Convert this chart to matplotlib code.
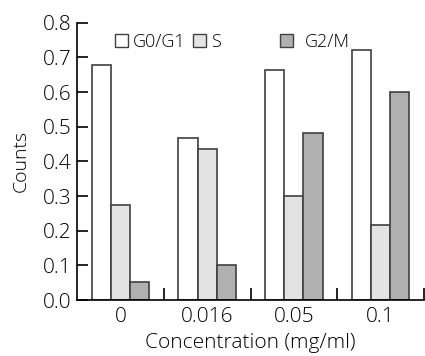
import numpy as np
import matplotlib.pyplot as plt
from matplotlib.patches import Patch

concs = ["0", "0.016", "0.05", "0.1"]
g0g1 = [0.678, 0.468, 0.665, 0.722]
s_phase = [0.274, 0.435, 0.300, 0.217]
g2m = [0.053, 0.101, 0.482, 0.600]

def main():
    plt.rcParams['font.family'] = ['Open Sans', 'DejaVu Sans']
    plt.rcParams['font.weight'] = 'light'
    plt.rcParams['axes.labelweight'] = 'light'
    fig = plt.figure(figsize=(4.25, 3.56), dpi=100)
    ax = fig.add_axes([0.181, 0.157, 0.817, 0.779])

    x = np.arange(len(concs))
    w = 0.22
    edge = '#404040'
    ax.bar(x - w, g0g1, w, color='white', edgecolor=edge, linewidth=1.2)
    ax.bar(x, s_phase, w, color='#e3e3e3', edgecolor=edge, linewidth=1.2)
    ax.bar(x + w, g2m, w, color='#b0b0b0', edgecolor=edge, linewidth=1.2)

    ax.set_xlim(-0.5, 3.5)
    ax.set_ylim(0, 0.8)
    ax.set_yticks(np.arange(0, 0.81, 0.1))
    ax.set_yticklabels(["%.1f" % v for v in np.arange(0, 0.81, 0.1)])
    ax.set_xticks([0.5, 1.5, 2.5, 3.5])
    ax.set_xticklabels([])
    ax.set_xticks(x, minor=True)
    ax.set_xticklabels(concs, minor=True)
    ax.tick_params(axis='x', which='minor', length=0, labelsize=15, pad=5)
    ax.tick_params(axis='x', which='major', direction='in', length=9, width=1.2)
    ax.tick_params(axis='y', direction='in', length=8, width=1.2, labelsize=15, pad=4)

    for sp in ['top', 'right']:
        ax.spines[sp].set_visible(False)
    for sp in ['left', 'bottom']:
        ax.spines[sp].set_linewidth(1.2)

    ax.set_xlabel("Concentration (mg/ml)", fontsize=15, labelpad=4)
    ax.set_ylabel("Counts", fontsize=14, labelpad=9)

    h1 = [Patch(facecolor='white', edgecolor=edge, label='G0/G1'),
          Patch(facecolor='#e3e3e3', edgecolor=edge, label='S')]
    h2 = [Patch(facecolor='#b0b0b0', edgecolor=edge, label='G2/M')]
    leg_kw = dict(frameon=False, fontsize=13, handlelength=0.72, handleheight=0.72,
                  borderpad=0, borderaxespad=0)
    leg1 = ax.legend(handles=h1, ncol=2, loc='center left', bbox_to_anchor=(0.11, 0.93),
                     handletextpad=0.28, columnspacing=0.4, **leg_kw)
    ax.add_artist(leg1)
    ax.legend(handles=h2, loc='center left', bbox_to_anchor=(0.585, 0.93),
              handletextpad=0.66, **leg_kw)

    fig.savefig("out.png", dpi=100)

if __name__ == "__main__":
    main()
